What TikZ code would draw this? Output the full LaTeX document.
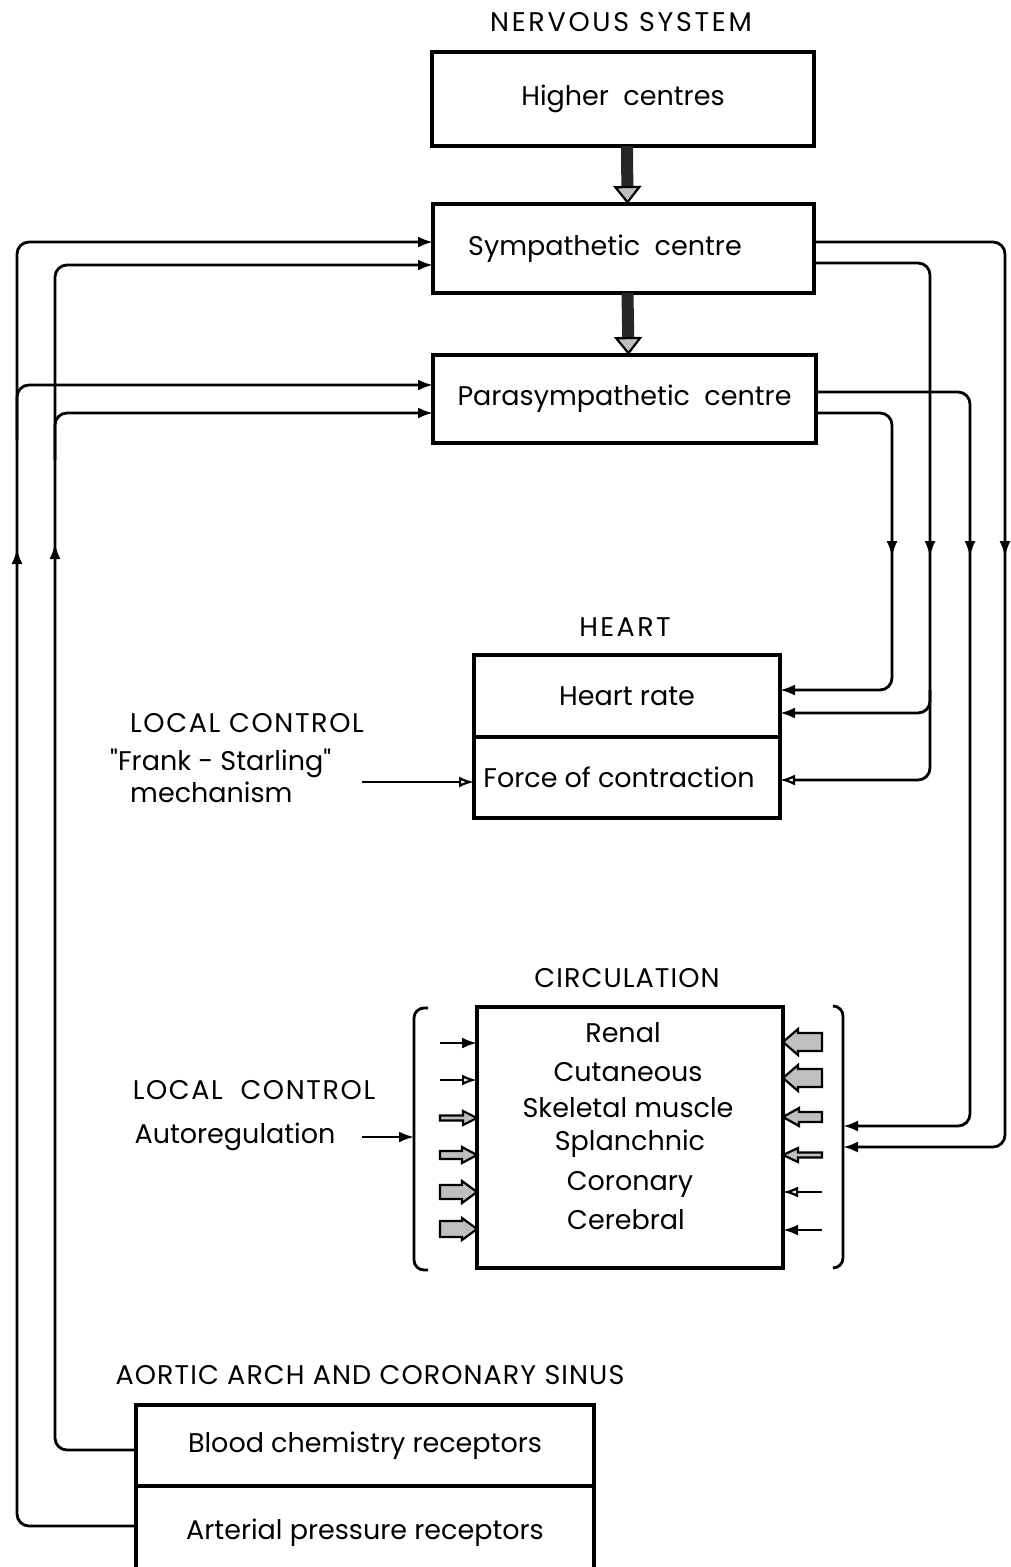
\documentclass[tikz,border=0pt]{standalone}
\usepackage{fontspec}
\setmainfont{Poppins}
\newfontfamily\qf{Poppins}
\usetikzlibrary{arrows.meta,calc}
\newcommand\lbl{\fontsize{27}{32}\selectfont}
\newcommand\caps[2][6]{{\addfontfeature{LetterSpace=#1}#2}}
\newcommand\circarrow[6]{% x0, xb, x1, y, w, h
  \draw[line width=2.2pt, fill=gray!50, line join=miter]
    (#1,#4-#5) -- (#2,#4-#5) -- (#2,#4-#6) -- (#3,#4) -- (#2,#4+#6) -- (#2,#4+#5) -- (#1,#4+#5) -- cycle;}
\tikzset{
  box/.style={draw, line width=3.6pt, inner sep=0pt, outer sep=0pt, font=\lbl},
  lbl/.style={inner sep=0pt, font=\lbl},
  conn/.style={line width=2.8pt, rounded corners=12pt},
  tip/.style={-{Latex[length=15pt,width=11pt]}},
  otip/.style={-{Latex[open,length=15pt,width=11pt,line width=2.2pt]}},
  midtip/.style={line width=2.8pt, -{Latex[length=16pt,width=11pt]}},
  bigarr/.style={line width=12pt, draw=black!85,
    -{Triangle[length=18pt,width=28pt,color=black,fill=gray!50,line width=2.2pt]}},
}
\begin{document}
\begin{tikzpicture}[x=1pt,y=-1pt]
\useasboundingbox (0,0) rectangle (1011,1567);
% headings
\node[lbl] (ns) at (621,22) {\caps[10]{NERVOUS SYSTEM}};
\node[lbl] (hh) at (625,627) {\caps[9]{HEART}};
\node[lbl] (ch) at (627,978) {\caps[4]{CIRCULATION}};
\node[lbl] (ah) at (370,1375) {\caps[4]{AORTIC ARCH AND CORONARY SINUS}};
% nervous system boxes
\node[box, minimum width=382pt, minimum height=94pt] (hc) at (623,99) {\raisebox{4pt}{Higher~~centres}};
\node[box, minimum width=381pt, minimum height=89pt] (sym) at (623.5,248.5) {};
\node[lbl] (symt) at (605,249) {Sympathetic~~centre};
\node[box, minimum width=383pt, minimum height=88pt] (para) at (624.5,399) {Parasympathetic~~centre};
\draw[bigarr] ([xshift=4pt]hc.south) -- ([xshift=4pt]sym.north);
\draw[bigarr] ([xshift=4pt]sym.south) -- ([xshift=4pt]para.north);
% heart
\node[box, minimum width=306pt, minimum height=82pt] (hr) at (627,696) {Heart rate};
\node[box, minimum width=306pt, minimum height=81pt, anchor=north] (fc) at (hr.south) {\hspace*{-16pt}Force of contraction};
\node[lbl] (lc1) at (247,723) {\caps[6]{LOCAL CONTROL}};
\node[lbl, anchor=west] (fs) at (110,763) {{\qf"}Frank - Starling{\qf"}};
\node[lbl, anchor=west] (mech) at (130,792) {mechanism};
\coordinate (fsend) at (362,782);
\draw[line width=2.4pt, otip] (fsend) -- ([yshift=-4.5pt]fc.west);
% circulation
\node[box, minimum width=306pt, minimum height=261pt] (circ) at (630,1137.5) {};
\node[lbl] (c1) at (623,1033) {Renal};
\node[lbl] (c2) at (628,1072) {Cutaneous};
\node[lbl] (c3) at (628,1108) {Skeletal muscle};
\node[lbl] (c4) at (630,1144) {Splanchnic};
\node[lbl] (c5) at (630,1184) {Coronary};
\node[lbl] (c6) at (626,1220) {Cerebral};
\draw[line width=2.8pt, rounded corners=10pt] (428,1008) -- (414,1008) -- (414,1270) -- (428,1270);
\draw[line width=2.8pt, rounded corners=10pt] (834,1006) -- (843,1006) -- (843,1268) -- (834,1268);
\coordinate (lbr) at (414,1137);
\coordinate (rbr1) at (843,1126);
\coordinate (rbr2) at (843,1147);
\node[lbl] (lc2) at (254,1090) {\caps[6]{LOCAL~~CONTROL}};
\node[lbl] (ar) at (235,1137) {Autoregulation};
\coordinate (arend) at (362,1137);
\draw[line width=2.4pt, tip] (arend) -- (lbr);
% left arrows into circulation
\draw[line width=2.6pt, tip] (440,1043) -- (477,1043);
\draw[line width=2.6pt, otip] (440,1080) -- (477,1080);
\circarrow{440}{463}{477}{1118}{2.5}{7}
\circarrow{440}{462}{477}{1155}{4}{8}
\circarrow{440}{462}{477}{1192}{7}{11}
\circarrow{440}{462}{477}{1229}{8}{11}
% right arrows into circulation
\circarrow{822}{798}{783}{1042}{9}{13}
\circarrow{822}{798}{783}{1078}{9}{13}
\circarrow{822}{799}{783}{1117}{5}{9}
\circarrow{822}{798}{783}{1155}{2.5}{7}
\draw[line width=2.6pt, otip] (822,1192) -- (783,1192);
\draw[line width=2.6pt, tip] (822,1230) -- (783,1230);
% aortic arch
\node[box, minimum width=458pt, minimum height=81pt] (bcr) at (365,1445.5) {\raisebox{-3pt}{Blood chemistry receptors}};
\node[box, minimum width=458pt, minimum height=95pt, anchor=north] (apr) at (bcr.south) {\raisebox{8pt}{Arterial pressure receptors}};
% left feedback lines
\draw[conn, tip] ([yshift=7.5pt]apr.west) -| (17,800) |- ([yshift=6.5pt]sym.west);
\draw[conn, tip] (17,440) |- ([yshift=14pt]para.west);
\draw[conn, tip] ([yshift=-4.5pt]bcr.west) -| (55,800) |- ([yshift=-16.5pt]sym.west);
\draw[conn, tip] (55,460) |- ([yshift=-14pt]para.west);
\draw[midtip] (17,585) -- (17,548);
\draw[midtip] (55,580) -- (55,543);
% right efferent lines
\draw[conn, tip] ([yshift=6.5pt]sym.east) -| (1005,800) |- (rbr2);
\draw[conn, otip] ([yshift=-14.5pt]sym.east) -| (930,600) |- ([yshift=-2.5pt]fc.east);
\draw[conn, tip] (930,690) |- ([yshift=-17pt]hr.east);
\draw[conn, tip] ([yshift=7pt]para.east) -| (970,800) |- (rbr1);
\draw[conn, tip] ([yshift=-14pt]para.east) -| (892,600) |- ([yshift=6pt]hr.east);
\draw[midtip] (1005,520) -- (1005,557);
\draw[midtip] (970,520) -- (970,557);
\draw[midtip] (930,520) -- (930,557);
\draw[midtip] (892,520) -- (892,557);
\end{tikzpicture}
\end{document}
